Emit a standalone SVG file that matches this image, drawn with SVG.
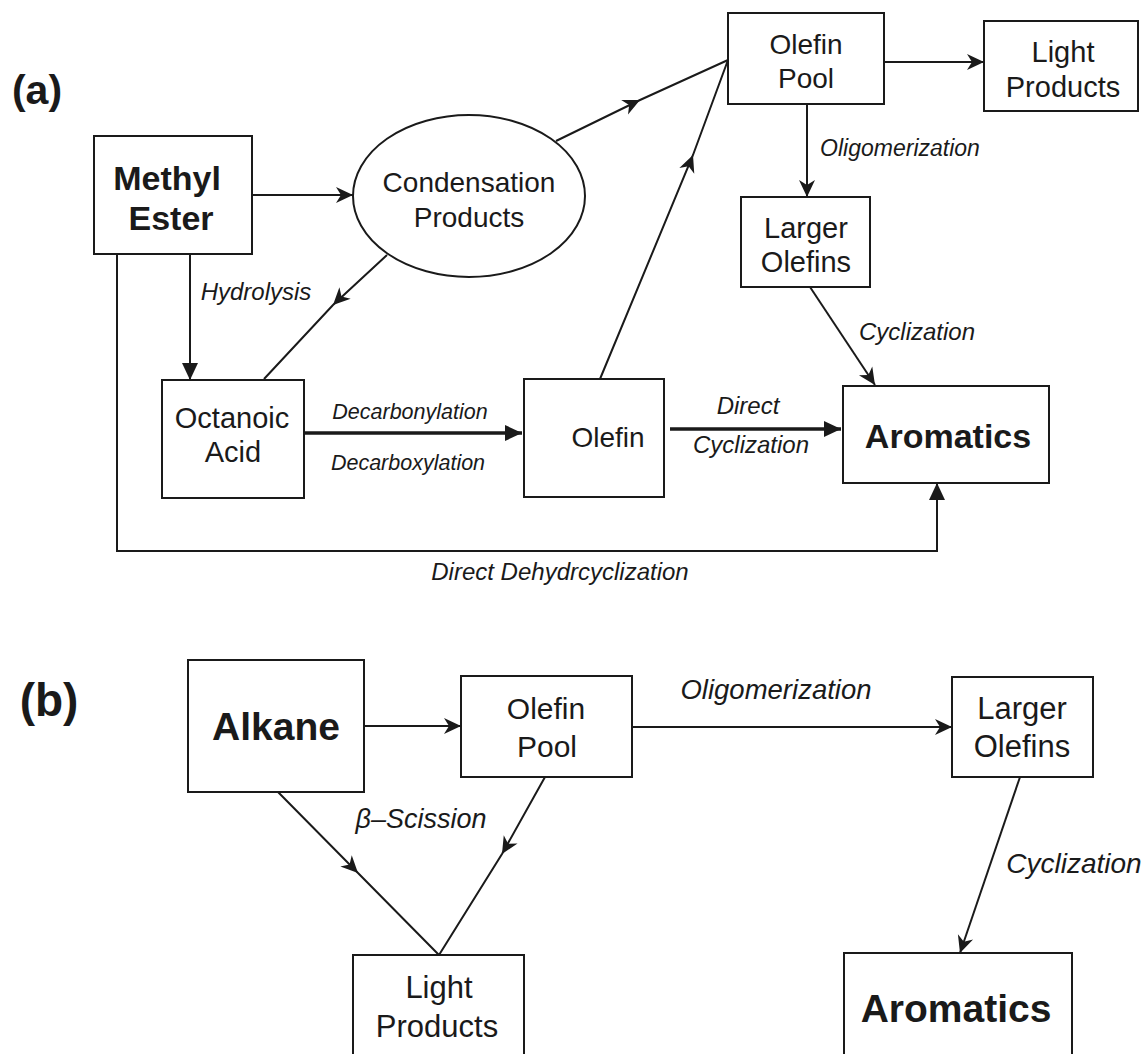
<svg xmlns="http://www.w3.org/2000/svg" width="1143" height="1054" viewBox="0 0 1143 1054">
<style>
.box{fill:none;stroke:#1a1a1a;stroke-width:2}
.t{font-family:"Liberation Sans",Arial,sans-serif;fill:#1a1a1a;text-anchor:middle}
.b{font-weight:bold}
.i{font-style:italic}
.c{fill:none;stroke:#1a1a1a;stroke-width:2}
.thick{stroke-width:3.5}
.ba{marker-end:url(#barb)}
.bm{marker-mid:url(#barb)}
.ta{marker-end:url(#tri)}
</style>
<defs>
<marker id="barb" markerUnits="userSpaceOnUse" viewBox="-19 -9 20 18" markerWidth="20" markerHeight="18" refX="0" refY="0" orient="auto"><path d="M0,0 L-17,-8 L-12,0 L-17,8 Z" fill="#1a1a1a"/></marker>
<marker id="tri" markerUnits="userSpaceOnUse" viewBox="-19 -9 20 18" markerWidth="20" markerHeight="18" refX="0" refY="0" orient="auto"><path d="M0,0 L-17,-8 L-17,8 Z" fill="#1a1a1a"/></marker>
</defs>
<rect width="1143" height="1054" fill="#fff"/>

<text class="t b" x="37" y="104" font-size="41">(a)</text>
<text class="t b" x="49" y="716" font-size="46">(b)</text>

<g id="a-methyl-ester"><rect class="box" x="94" y="136" width="158" height="118"/><text class="t b" x="167" y="190" font-size="34">Methyl</text><text class="t b" x="171" y="230" font-size="34">Ester</text></g>
<g id="a-condensation"><ellipse class="box" cx="469" cy="196" rx="116" ry="81"/><text class="t" x="469" y="192" font-size="28">Condensation</text><text class="t" x="469" y="227" font-size="28">Products</text></g>
<g id="a-olefin-pool"><rect class="box" x="728" y="13" width="156" height="91"/><text class="t" x="806" y="54" font-size="28">Olefin</text><text class="t" x="806" y="88" font-size="28">Pool</text></g>
<g id="a-light-products"><rect class="box" x="984" y="21" width="154" height="90"/><text class="t" x="1063" y="62" font-size="29">Light</text><text class="t" x="1063" y="97" font-size="29">Products</text></g>
<g id="a-larger-olefins"><rect class="box" x="741" y="197" width="129" height="90"/><text class="t" x="806" y="238" font-size="29">Larger</text><text class="t" x="806" y="272" font-size="29">Olefins</text></g>
<g id="a-octanoic-acid"><rect class="box" x="162" y="380" width="142" height="118"/><text class="t" x="232" y="428" font-size="29">Octanoic</text><text class="t" x="233" y="462" font-size="29">Acid</text></g>
<g id="a-olefin"><rect class="box" x="524" y="379" width="140" height="118"/><text class="t" x="608" y="447" font-size="28">Olefin</text></g>
<g id="a-aromatics"><rect class="box" x="843" y="386" width="206" height="97"/><text class="t b" x="948" y="448" font-size="34">Aromatics</text></g>

<g id="b-alkane"><rect class="box" x="188" y="660" width="176" height="132"/><text class="t b" x="276" y="740" font-size="39">Alkane</text></g>
<g id="b-olefin-pool"><rect class="box" x="461" y="676" width="171" height="101"/><text class="t" x="546" y="719" font-size="30">Olefin</text><text class="t" x="547" y="757" font-size="30">Pool</text></g>
<g id="b-larger-olefins"><rect class="box" x="952" y="677" width="141" height="100"/><text class="t" x="1022" y="719" font-size="31">Larger</text><text class="t" x="1022" y="757" font-size="31">Olefins</text></g>
<g id="b-light-products"><rect class="box" x="353" y="955" width="171" height="110"/><text class="t" x="439" y="998" font-size="31">Light</text><text class="t" x="437" y="1037" font-size="31">Products</text></g>
<g id="b-aromatics"><rect class="box" x="844" y="953" width="228" height="110"/><text class="t b" x="956" y="1022" font-size="39">Aromatics</text></g>

<g id="connectors">
<path class="c ba" d="M252,195 H353"/>
<path class="c ta" d="M190,254 V380"/>
<path class="c bm" d="M387,255 L333,305 L264,379"/>
<path class="c bm" d="M556,141 L640,100 L728,60"/>
<path class="c bm" d="M600,379 L693,155 L728,60"/>
<path class="c ba" d="M884,62 H984"/>
<path class="c ba" d="M807,104 V197"/>
<path class="c ba" d="M810,287 L875,385"/>
<path class="c thick ta" d="M304,433 H522"/>
<path class="c thick ta" d="M670,429 H841"/>
<path class="c ta" d="M117,254 V551 H937 V483"/>
<path class="c ba" d="M364,726 H461"/>
<path class="c ba" d="M632,727 H952"/>
<path class="c bm" d="M278,792 L358,873 L439,955"/>
<path class="c bm" d="M545,777 L502,854 L439,955"/>
<path class="c ba" d="M1020,777 L960,953"/>
</g>

<g id="labels">
<text class="t i" x="256" y="300" font-size="24">Hydrolysis</text>
<text class="t i" x="900" y="156" font-size="23">Oligomerization</text>
<text class="t i" x="917" y="340" font-size="24">Cyclization</text>
<text class="t i" x="410" y="419" font-size="21.5">Decarbonylation</text>
<text class="t i" x="408" y="470" font-size="21.5">Decarboxylation</text>
<text class="t i" x="748" y="414" font-size="24">Direct</text>
<text class="t i" x="751" y="453" font-size="24">Cyclization</text>
<text class="t i" x="560" y="580" font-size="24">Direct Dehydrcyclization</text>
<text class="t i" x="776" y="699" font-size="27.5">Oligomerization</text>
<text class="t i" x="421" y="828" font-size="27">β–Scission</text>
<text class="t i" x="1074" y="873" font-size="28">Cyclization</text>
</g>
</svg>
